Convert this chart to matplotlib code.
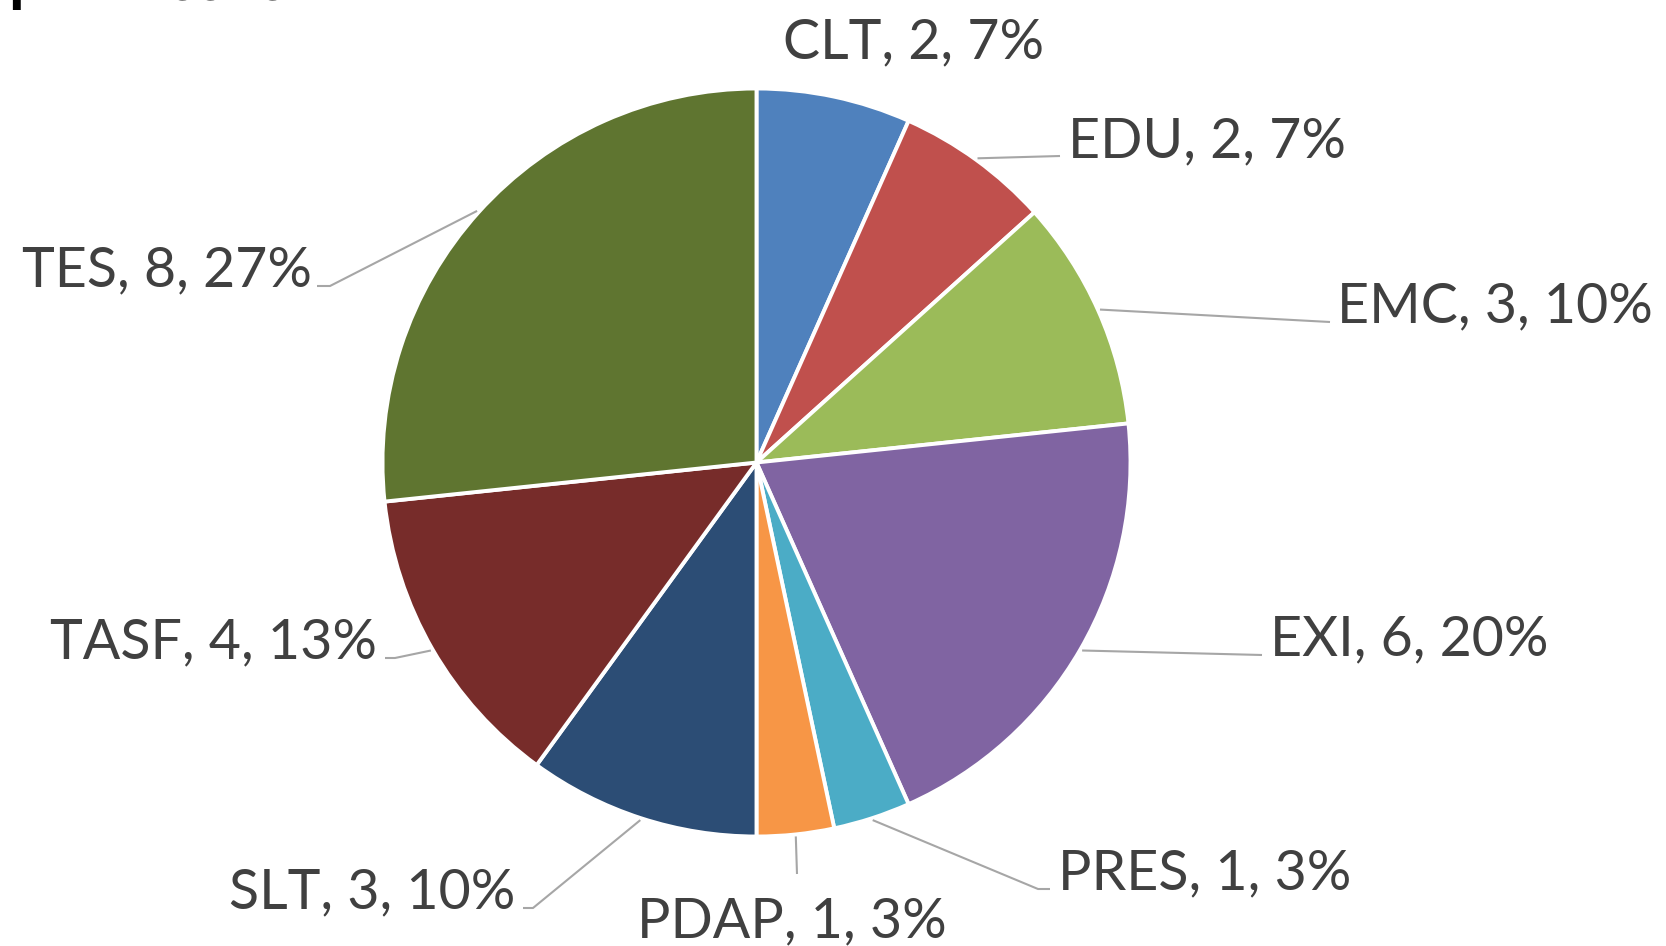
import numpy as np
import matplotlib.pyplot as plt

# slice data, clockwise from 12 o'clock
categories = ["CLT", "EDU", "EMC", "EXI", "PRES", "PDAP", "SLT", "TASF", "TES"]
counts = [2, 2, 3, 6, 1, 1, 3, 4, 8]
colors = ["#4F81BD", "#C0504D", "#9BBB59", "#8064A2", "#4BACC6",
          "#F79646", "#2C4D75", "#772C2A", "#5F7530"]

W, H = 1666, 946
CENTER = (756.5, 462.5)   # image px (y down)
RADIUS = 374

# label layout in image px: anchor x, baseline y, alignment, leader path after the wedge edge
label_layout = {
    "CLT": (783, 58, "left", []),
    "EDU": (1068, 157, "left", [(1060, 156)]),
    "EMC": (1337, 322, "left", [(1330, 322)]),
    "EXI": (1270, 655, "left", [(1262, 655)]),
    "PRES": (1058, 889, "left", [(1038, 889), (1050, 889)]),
    "PDAP": (792, 937, "center", [(797, 874)]),
    "SLT": (515, 908, "right", [(533, 908), (523, 908)]),
    "TASF": (377, 658, "right", [(395, 658), (385, 658)]),
    "TES": (312, 286, "right", [(330, 286), (317, 286)]),
}

LABEL_FONT = ["Lato", "DejaVu Sans"]
LABEL_COLOR = "#404040"
LEADER_COLOR = "#A6A6A6"


def flip(y):
    return H - y


fig = plt.figure(figsize=(W / 100, H / 100), dpi=100)
ax = fig.add_axes([0, 0, 1, 1])

wedges, _ = ax.pie(
    counts,
    colors=colors,
    startangle=90,
    counterclock=False,
    center=(CENTER[0], flip(CENTER[1])),
    radius=RADIUS,
    wedgeprops=dict(edgecolor="white", linewidth=2.8),
)

total = sum(counts)
for wedge, cat, n in zip(wedges, categories, counts):
    x, y, ha, path = label_layout[cat]
    pct = round(100 * n / total)
    ax.text(x, flip(y), f"{cat}, {n}, {pct}%", ha=ha, va="baseline",
            fontsize=40, color=LABEL_COLOR, family=LABEL_FONT)
    if path:
        mid = np.deg2rad((wedge.theta1 + wedge.theta2) / 2)
        sx = CENTER[0] + (RADIUS + 2) * np.cos(mid)
        sy = flip(CENTER[1]) + (RADIUS + 2) * np.sin(mid)
        xs = [sx] + [p[0] for p in path]
        ys = [sy] + [flip(p[1]) for p in path]
        ax.plot(xs, ys, color=LEADER_COLOR, linewidth=1.5, solid_capstyle="butt")

# title is cut off at the top of the original image, only its last line's bottom shows
ax.text(8, flip(0), "processes", ha="left", va="baseline", fontsize=46,
        fontweight="bold", color="black", family=LABEL_FONT)

ax.set_xlim(0, W)
ax.set_ylim(0, H)
ax.set_aspect("equal")
ax.axis("off")

fig.savefig("out.png", dpi=100, facecolor="white")
